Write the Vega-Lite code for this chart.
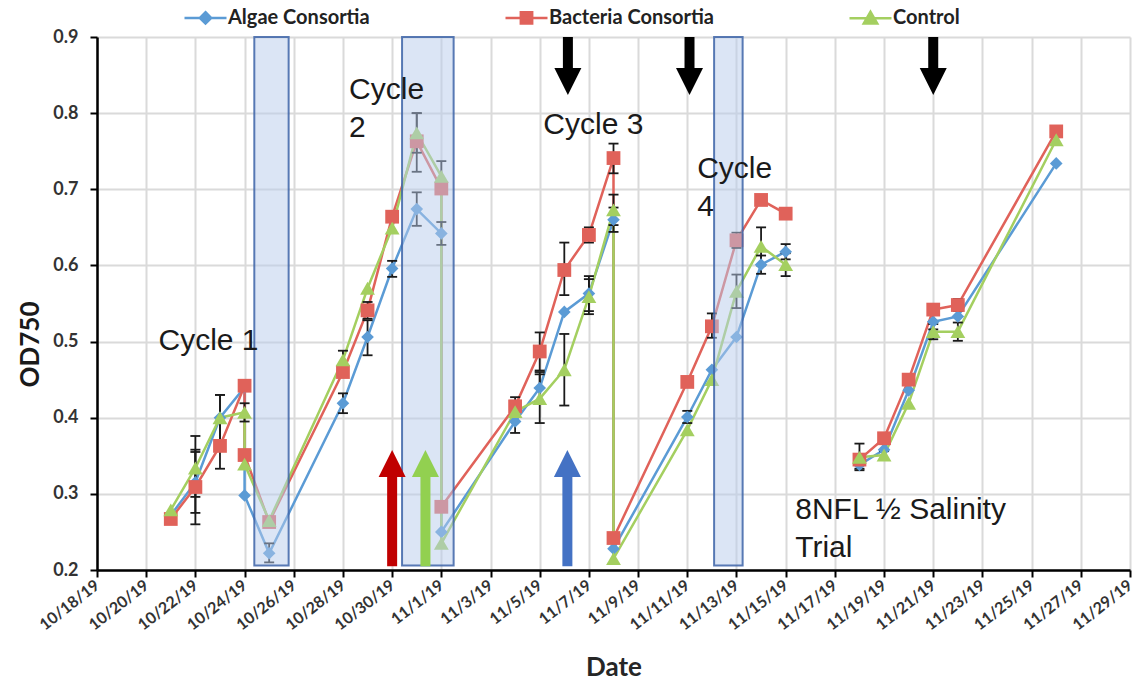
{
  "$schema": "https://vega.github.io/schema/vega-lite/v6.json",
  "width": 1033,
  "height": 533,
  "autosize": {"type": "none"},
  "padding": {"left": 97, "top": 37, "right": 12, "bottom": 112},
  "background": "white",
  "config": {"view": {"stroke": null}, "font": "Lato"},
  "datasets": {
    "od": [
      {"s": "Algae Consortia", "seg": 1, "i": 1, "t": "2019-10-21", "v": 0.272},
      {"s": "Algae Consortia", "seg": 1, "i": 2, "t": "2019-10-22", "v": 0.315, "lo": 0.275, "hi": 0.355},
      {"s": "Algae Consortia", "seg": 1, "i": 3, "t": "2019-10-23", "v": 0.400, "lo": 0.370, "hi": 0.430},
      {"s": "Algae Consortia", "seg": 1, "i": 4, "t": "2019-10-24", "v": 0.440},
      {"s": "Algae Consortia", "seg": 1, "i": 5, "t": "2019-10-24", "v": 0.298},
      {"s": "Algae Consortia", "seg": 1, "i": 6, "t": "2019-10-25", "v": 0.222, "lo": 0.210, "hi": 0.235},
      {"s": "Algae Consortia", "seg": 1, "i": 7, "t": "2019-10-28", "v": 0.419, "lo": 0.406, "hi": 0.432},
      {"s": "Algae Consortia", "seg": 1, "i": 8, "t": "2019-10-29", "v": 0.506, "lo": 0.482, "hi": 0.528},
      {"s": "Algae Consortia", "seg": 1, "i": 9, "t": "2019-10-30", "v": 0.596, "lo": 0.585, "hi": 0.606},
      {"s": "Algae Consortia", "seg": 1, "i": 10, "t": "2019-10-31", "v": 0.674, "lo": 0.652, "hi": 0.696},
      {"s": "Algae Consortia", "seg": 1, "i": 11, "t": "2019-11-01", "v": 0.642, "lo": 0.627, "hi": 0.657},
      {"s": "Algae Consortia", "seg": 1, "i": 12, "t": "2019-11-01", "v": 0.250},
      {"s": "Algae Consortia", "seg": 1, "i": 13, "t": "2019-11-04", "v": 0.395, "lo": 0.380, "hi": 0.410},
      {"s": "Algae Consortia", "seg": 1, "i": 14, "t": "2019-11-05", "v": 0.439, "lo": 0.420, "hi": 0.460},
      {"s": "Algae Consortia", "seg": 1, "i": 15, "t": "2019-11-06", "v": 0.539},
      {"s": "Algae Consortia", "seg": 1, "i": 16, "t": "2019-11-07", "v": 0.563, "lo": 0.540, "hi": 0.586},
      {"s": "Algae Consortia", "seg": 1, "i": 17, "t": "2019-11-08", "v": 0.660, "lo": 0.644, "hi": 0.676},
      {"s": "Algae Consortia", "seg": 1, "i": 18, "t": "2019-11-08", "v": 0.228},
      {"s": "Algae Consortia", "seg": 1, "i": 19, "t": "2019-11-11", "v": 0.401, "lo": 0.393, "hi": 0.409},
      {"s": "Algae Consortia", "seg": 1, "i": 20, "t": "2019-11-12", "v": 0.463},
      {"s": "Algae Consortia", "seg": 1, "i": 21, "t": "2019-11-13", "v": 0.506},
      {"s": "Algae Consortia", "seg": 1, "i": 22, "t": "2019-11-14", "v": 0.601, "lo": 0.589, "hi": 0.613},
      {"s": "Algae Consortia", "seg": 1, "i": 23, "t": "2019-11-15", "v": 0.618, "lo": 0.608, "hi": 0.628},
      {"s": "Algae Consortia", "seg": 2, "i": 24, "t": "2019-11-18", "v": 0.338, "lo": 0.331, "hi": 0.345},
      {"s": "Algae Consortia", "seg": 2, "i": 25, "t": "2019-11-19", "v": 0.358},
      {"s": "Algae Consortia", "seg": 2, "i": 26, "t": "2019-11-20", "v": 0.436},
      {"s": "Algae Consortia", "seg": 2, "i": 27, "t": "2019-11-21", "v": 0.526, "lo": 0.516, "hi": 0.536},
      {"s": "Algae Consortia", "seg": 2, "i": 28, "t": "2019-11-22", "v": 0.533},
      {"s": "Algae Consortia", "seg": 2, "i": 29, "t": "2019-11-26", "v": 0.734},

      {"s": "Bacteria Consortia", "seg": 1, "i": 1, "t": "2019-10-21", "v": 0.267},
      {"s": "Bacteria Consortia", "seg": 1, "i": 2, "t": "2019-10-22", "v": 0.309, "lo": 0.260, "hi": 0.358},
      {"s": "Bacteria Consortia", "seg": 1, "i": 3, "t": "2019-10-23", "v": 0.363, "lo": 0.333, "hi": 0.393},
      {"s": "Bacteria Consortia", "seg": 1, "i": 4, "t": "2019-10-24", "v": 0.442},
      {"s": "Bacteria Consortia", "seg": 1, "i": 5, "t": "2019-10-24", "v": 0.351},
      {"s": "Bacteria Consortia", "seg": 1, "i": 6, "t": "2019-10-25", "v": 0.263},
      {"s": "Bacteria Consortia", "seg": 1, "i": 7, "t": "2019-10-28", "v": 0.460},
      {"s": "Bacteria Consortia", "seg": 1, "i": 8, "t": "2019-10-29", "v": 0.541, "lo": 0.530, "hi": 0.552},
      {"s": "Bacteria Consortia", "seg": 1, "i": 9, "t": "2019-10-30", "v": 0.664},
      {"s": "Bacteria Consortia", "seg": 1, "i": 10, "t": "2019-10-31", "v": 0.763, "lo": 0.723, "hi": 0.800},
      {"s": "Bacteria Consortia", "seg": 1, "i": 11, "t": "2019-11-01", "v": 0.701},
      {"s": "Bacteria Consortia", "seg": 1, "i": 12, "t": "2019-11-01", "v": 0.283},
      {"s": "Bacteria Consortia", "seg": 1, "i": 13, "t": "2019-11-04", "v": 0.415, "lo": 0.403, "hi": 0.427},
      {"s": "Bacteria Consortia", "seg": 1, "i": 14, "t": "2019-11-05", "v": 0.487, "lo": 0.462, "hi": 0.512},
      {"s": "Bacteria Consortia", "seg": 1, "i": 15, "t": "2019-11-06", "v": 0.594, "lo": 0.561, "hi": 0.630},
      {"s": "Bacteria Consortia", "seg": 1, "i": 16, "t": "2019-11-07", "v": 0.640, "lo": 0.630, "hi": 0.650},
      {"s": "Bacteria Consortia", "seg": 1, "i": 17, "t": "2019-11-08", "v": 0.741, "lo": 0.721, "hi": 0.760},
      {"s": "Bacteria Consortia", "seg": 1, "i": 18, "t": "2019-11-08", "v": 0.242},
      {"s": "Bacteria Consortia", "seg": 1, "i": 19, "t": "2019-11-11", "v": 0.447},
      {"s": "Bacteria Consortia", "seg": 1, "i": 20, "t": "2019-11-12", "v": 0.520, "lo": 0.505, "hi": 0.537},
      {"s": "Bacteria Consortia", "seg": 1, "i": 21, "t": "2019-11-13", "v": 0.633, "lo": 0.623, "hi": 0.643},
      {"s": "Bacteria Consortia", "seg": 1, "i": 22, "t": "2019-11-14", "v": 0.686},
      {"s": "Bacteria Consortia", "seg": 1, "i": 23, "t": "2019-11-15", "v": 0.668},
      {"s": "Bacteria Consortia", "seg": 2, "i": 24, "t": "2019-11-18", "v": 0.345},
      {"s": "Bacteria Consortia", "seg": 2, "i": 25, "t": "2019-11-19", "v": 0.373},
      {"s": "Bacteria Consortia", "seg": 2, "i": 26, "t": "2019-11-20", "v": 0.450},
      {"s": "Bacteria Consortia", "seg": 2, "i": 27, "t": "2019-11-21", "v": 0.542},
      {"s": "Bacteria Consortia", "seg": 2, "i": 28, "t": "2019-11-22", "v": 0.548, "lo": 0.540, "hi": 0.556},
      {"s": "Bacteria Consortia", "seg": 2, "i": 29, "t": "2019-11-26", "v": 0.776},

      {"s": "Control", "seg": 1, "i": 1, "t": "2019-10-21", "v": 0.279},
      {"s": "Control", "seg": 1, "i": 2, "t": "2019-10-22", "v": 0.334, "lo": 0.296, "hi": 0.376},
      {"s": "Control", "seg": 1, "i": 3, "t": "2019-10-23", "v": 0.400, "lo": 0.370, "hi": 0.430},
      {"s": "Control", "seg": 1, "i": 4, "t": "2019-10-24", "v": 0.407, "lo": 0.395, "hi": 0.419},
      {"s": "Control", "seg": 1, "i": 5, "t": "2019-10-24", "v": 0.339},
      {"s": "Control", "seg": 1, "i": 6, "t": "2019-10-25", "v": 0.265},
      {"s": "Control", "seg": 1, "i": 7, "t": "2019-10-28", "v": 0.476, "lo": 0.464, "hi": 0.488},
      {"s": "Control", "seg": 1, "i": 8, "t": "2019-10-29", "v": 0.570},
      {"s": "Control", "seg": 1, "i": 9, "t": "2019-10-30", "v": 0.649},
      {"s": "Control", "seg": 1, "i": 10, "t": "2019-10-31", "v": 0.774, "lo": 0.748, "hi": 0.800},
      {"s": "Control", "seg": 1, "i": 11, "t": "2019-11-01", "v": 0.717, "lo": 0.697, "hi": 0.737},
      {"s": "Control", "seg": 1, "i": 12, "t": "2019-11-01", "v": 0.235},
      {"s": "Control", "seg": 1, "i": 13, "t": "2019-11-04", "v": 0.408},
      {"s": "Control", "seg": 1, "i": 14, "t": "2019-11-05", "v": 0.425, "lo": 0.393, "hi": 0.457},
      {"s": "Control", "seg": 1, "i": 15, "t": "2019-11-06", "v": 0.463, "lo": 0.416, "hi": 0.510},
      {"s": "Control", "seg": 1, "i": 16, "t": "2019-11-07", "v": 0.559, "lo": 0.536, "hi": 0.582},
      {"s": "Control", "seg": 1, "i": 17, "t": "2019-11-08", "v": 0.673, "lo": 0.653, "hi": 0.693},
      {"s": "Control", "seg": 1, "i": 18, "t": "2019-11-08", "v": 0.215},
      {"s": "Control", "seg": 1, "i": 19, "t": "2019-11-11", "v": 0.384},
      {"s": "Control", "seg": 1, "i": 20, "t": "2019-11-12", "v": 0.450},
      {"s": "Control", "seg": 1, "i": 21, "t": "2019-11-13", "v": 0.566, "lo": 0.544, "hi": 0.588},
      {"s": "Control", "seg": 1, "i": 22, "t": "2019-11-14", "v": 0.625, "lo": 0.600, "hi": 0.650},
      {"s": "Control", "seg": 1, "i": 23, "t": "2019-11-15", "v": 0.601, "lo": 0.586, "hi": 0.616},
      {"s": "Control", "seg": 2, "i": 24, "t": "2019-11-18", "v": 0.348, "lo": 0.333, "hi": 0.366},
      {"s": "Control", "seg": 2, "i": 25, "t": "2019-11-19", "v": 0.351, "lo": 0.346, "hi": 0.356},
      {"s": "Control", "seg": 2, "i": 26, "t": "2019-11-20", "v": 0.419},
      {"s": "Control", "seg": 2, "i": 27, "t": "2019-11-21", "v": 0.513, "lo": 0.503, "hi": 0.523},
      {"s": "Control", "seg": 2, "i": 28, "t": "2019-11-22", "v": 0.513, "lo": 0.501, "hi": 0.525},
      {"s": "Control", "seg": 2, "i": 29, "t": "2019-11-26", "v": 0.765}
    ],
    "shade": [
      {"t0": "2019-10-24T09:30:00Z", "t1": "2019-10-25T19:00:00Z"},
      {"t0": "2019-10-30T09:40:00Z", "t1": "2019-11-01T12:00:00Z"},
      {"t0": "2019-11-12T02:10:00Z", "t1": "2019-11-13T06:00:00Z"}
    ],
    "drops": [
      {"t": "2019-11-06T03:30:00Z"},
      {"t": "2019-11-11T02:10:00Z"},
      {"t": "2019-11-21T00:00:00Z"}
    ],
    "adds": [
      {"t": "2019-10-30T00:00:00Z", "s": "Bacteria Consortia"},
      {"t": "2019-10-31T08:30:00Z", "s": "Control"},
      {"t": "2019-11-06T03:00:00Z", "s": "Algae Consortia"}
    ],
    "notes": [
      {"t": "2019-10-20T12:00:00Z", "v": 0.489, "txt": "Cycle 1"},
      {"t": "2019-10-28T06:00:00Z", "v": 0.8186, "txt": "Cycle\n2"},
      {"t": "2019-11-05T03:30:00Z", "v": 0.7726, "txt": "Cycle 3"},
      {"t": "2019-11-11T09:40:00Z", "v": 0.7148, "txt": "Cycle\n4"},
      {"t": "2019-11-15T09:20:00Z", "v": 0.267, "txt": "8NFL ½ Salinity\nTrial"}
    ]
  },
  "layer": [
    {
      "data": {"name": "od"},
      "mark": {"type": "line", "strokeWidth": 2.5},
      "encoding": {
        "x": {
          "field": "t", "type": "temporal", "title": "Date",
          "scale": {"type": "utc", "domain": [
            {"year": 2019, "month": 10, "date": 18, "utc": true},
            {"year": 2019, "month": 11, "date": 29, "utc": true}
          ]},
          "axis": {
            "values": [
              {"year": 2019, "month": 10, "date": 18, "utc": true},
              {"year": 2019, "month": 10, "date": 20, "utc": true},
              {"year": 2019, "month": 10, "date": 22, "utc": true},
              {"year": 2019, "month": 10, "date": 24, "utc": true},
              {"year": 2019, "month": 10, "date": 26, "utc": true},
              {"year": 2019, "month": 10, "date": 28, "utc": true},
              {"year": 2019, "month": 10, "date": 30, "utc": true},
              {"year": 2019, "month": 11, "date": 1, "utc": true},
              {"year": 2019, "month": 11, "date": 3, "utc": true},
              {"year": 2019, "month": 11, "date": 5, "utc": true},
              {"year": 2019, "month": 11, "date": 7, "utc": true},
              {"year": 2019, "month": 11, "date": 9, "utc": true},
              {"year": 2019, "month": 11, "date": 11, "utc": true},
              {"year": 2019, "month": 11, "date": 13, "utc": true},
              {"year": 2019, "month": 11, "date": 15, "utc": true},
              {"year": 2019, "month": 11, "date": 17, "utc": true},
              {"year": 2019, "month": 11, "date": 19, "utc": true},
              {"year": 2019, "month": 11, "date": 21, "utc": true},
              {"year": 2019, "month": 11, "date": 23, "utc": true},
              {"year": 2019, "month": 11, "date": 25, "utc": true},
              {"year": 2019, "month": 11, "date": 27, "utc": true},
              {"year": 2019, "month": 11, "date": 29, "utc": true}
            ],
            "labelExpr": "utcFormat(datum.value, '%-m/%-d/%y')",
            "labelAngle": -38,
            "labelAlign": "right",
            "labelBaseline": "middle",
            "labelFont": "Lato",
            "labelFontWeight": "bold",
            "labelFontSize": 16,
            "labelColor": "#333333",
            "labelPadding": 6,
            "labelOverlap": false,
            "labelBound": false,
            "labelFlush": false,
            "tickSize": 7,
            "tickWidth": 2,
            "tickColor": "black",
            "domainColor": "black",
            "domainWidth": 2.5,
            "grid": true,
            "gridColor": "#dadada",
            "gridWidth": 2,
            "titleFont": "Lato",
            "titleFontWeight": "bold",
            "titleFontSize": 26,
            "titleColor": "#262626",
            "titleBaseline": "alphabetic",
            "titleY": 105
          }
        },
        "y": {
          "field": "v", "type": "quantitative", "title": "OD750",
          "scale": {"domain": [0.2, 0.9], "nice": false, "zero": false},
          "axis": {
            "values": [0.2, 0.3, 0.4, 0.5, 0.6, 0.7, 0.8, 0.9],
            "format": ".1f",
            "labelFont": "Lato",
            "labelFontWeight": "bold",
            "labelFontSize": 18,
            "labelColor": "#333333",
            "labelPadding": 12,
            "tickSize": 7,
            "tickWidth": 2,
            "tickColor": "black",
            "domainColor": "black",
            "domainWidth": 2.5,
            "grid": true,
            "gridColor": "#dadada",
            "gridWidth": 2,
            "titleFont": "Lato",
            "titleFontWeight": "bold",
            "titleFontSize": 26,
            "titleColor": "#1a1a1a",
            "titleAngle": -90,
            "titleAlign": "center",
            "titleBaseline": "middle",
            "titleX": -67,
            "titleY": 307
          }
        },
        "color": {
          "field": "s", "type": "nominal",
          "scale": {
            "domain": ["Algae Consortia", "Bacteria Consortia", "Control"],
            "range": ["#5b9bd5", "#e0625a", "#a4cf60"]
          },
          "legend": {
            "orient": "none",
            "legendX": 86,
            "legendY": -42,
            "direction": "horizontal",
            "title": null,
            "padding": 0,
            "symbolSize": 1764,
            "symbolStrokeWidth": 2.5,
            "labelFont": "Lato",
            "labelFontWeight": "bold",
            "labelFontSize": 20,
            "labelColor": "#222222",
            "labelLimit": 400,
            "labelOffset": 0,
            "columnPadding": 130,
            "encoding": {
              "symbols": {
                "shape": {"value": {"signal": "datum.value === 'Algae Consortia' ? 'M-1,0L1,0M0,-0.27L0.27,0L0,0.27L-0.27,0Z' : datum.value === 'Bacteria Consortia' ? 'M-1,0L1,0M-0.27,-0.27L0.27,-0.27L0.27,0.27L-0.27,0.27Z' : 'M-1,0L1,0M0,-0.3L0.32,0.25L-0.32,0.25Z'"}},
                "fill": {"value": {"signal": "scale('color', datum.value)"}},
                "stroke": {"value": {"signal": "scale('color', datum.value)"}},
                "size": {"value": 1764},
                "strokeWidth": {"value": 2.5},
                "opacity": {"value": 1}
              }
            }
          }
        },
        "detail": {"field": "seg", "type": "nominal"},
        "order": {"field": "i", "type": "quantitative"}
      }
    },
    {
      "data": {"name": "od"},
      "transform": [{"filter": "isValid(datum.lo)"}],
      "mark": {"type": "rule", "color": "#1a1a1a", "strokeWidth": 1.8},
      "encoding": {
        "x": {"field": "t", "type": "temporal", "title": "Date"},
        "y": {"field": "lo", "type": "quantitative", "title": "OD750"},
        "y2": {"field": "hi"}
      }
    },
    {
      "data": {"name": "od"},
      "transform": [{"filter": "isValid(datum.lo)"}],
      "mark": {"type": "tick", "orient": "horizontal", "size": 10, "thickness": 1.8, "color": "#1a1a1a", "opacity": 1},
      "encoding": {
        "x": {"field": "t", "type": "temporal", "title": "Date"},
        "y": {"field": "lo", "type": "quantitative", "title": "OD750"}
      }
    },
    {
      "data": {"name": "od"},
      "transform": [{"filter": "isValid(datum.hi)"}],
      "mark": {"type": "tick", "orient": "horizontal", "size": 10, "thickness": 1.8, "color": "#1a1a1a", "opacity": 1},
      "encoding": {
        "x": {"field": "t", "type": "temporal", "title": "Date"},
        "y": {"field": "hi", "type": "quantitative", "title": "OD750"}
      }
    },
    {
      "data": {"name": "od"},
      "transform": [{"filter": "datum.s === 'Algae Consortia'"}],
      "mark": {"type": "point", "filled": true, "opacity": 1, "shape": "diamond", "size": 160},
      "encoding": {
        "x": {"field": "t", "type": "temporal", "title": "Date"},
        "y": {"field": "v", "type": "quantitative", "title": "OD750"},
        "color": {"field": "s", "type": "nominal"}
      }
    },
    {
      "data": {"name": "od"},
      "transform": [{"filter": "datum.s === 'Bacteria Consortia'"}],
      "mark": {"type": "point", "filled": true, "opacity": 1, "shape": "square", "size": 190},
      "encoding": {
        "x": {"field": "t", "type": "temporal", "title": "Date"},
        "y": {"field": "v", "type": "quantitative", "title": "OD750"},
        "color": {"field": "s", "type": "nominal"}
      }
    },
    {
      "data": {"name": "od"},
      "transform": [{"filter": "datum.s === 'Control'"}],
      "mark": {"type": "point", "filled": true, "opacity": 1, "shape": "triangle-up", "size": 220},
      "encoding": {
        "x": {"field": "t", "type": "temporal", "title": "Date"},
        "y": {"field": "v", "type": "quantitative", "title": "OD750"},
        "color": {"field": "s", "type": "nominal"}
      }
    },
    {
      "data": {"name": "shade"},
      "mark": {"type": "rect", "fill": "#b7cbec", "fillOpacity": 0.5, "stroke": "#3d64a8", "strokeWidth": 2, "strokeOpacity": 0.85},
      "encoding": {
        "x": {"field": "t0", "type": "temporal"},
        "x2": {"field": "t1"},
        "y": {"datum": 0.206, "type": "quantitative"},
        "y2": {"datum": 0.9}
      }
    },
    {
      "data": {"name": "drops"},
      "mark": {"type": "rule", "color": "black", "strokeWidth": 10},
      "encoding": {
        "x": {"field": "t", "type": "temporal"},
        "y": {"datum": 0.9, "type": "quantitative"},
        "y2": {"datum": 0.845}
      }
    },
    {
      "data": {"name": "drops"},
      "mark": {"type": "point", "filled": true, "color": "black", "opacity": 1, "shape": "M-1,-1L1,-1L0,1Z", "size": 729},
      "encoding": {
        "x": {"field": "t", "type": "temporal"},
        "y": {"datum": 0.8416, "type": "quantitative"}
      }
    },
    {
      "data": {"name": "adds"},
      "mark": {"type": "rule", "strokeWidth": 10},
      "encoding": {
        "x": {"field": "t", "type": "temporal"},
        "y": {"datum": 0.205, "type": "quantitative"},
        "y2": {"datum": 0.335},
        "stroke": {
          "field": "s", "type": "nominal",
          "scale": {"domain": ["Algae Consortia", "Bacteria Consortia", "Control"], "range": ["#4472c4", "#c00000", "#92d050"]},
          "legend": null
        }
      }
    },
    {
      "data": {"name": "adds"},
      "mark": {"type": "point", "filled": true, "opacity": 1, "shape": "M-1,1L1,1L0,-1Z", "size": 729},
      "encoding": {
        "x": {"field": "t", "type": "temporal"},
        "y": {"datum": 0.34, "type": "quantitative"},
        "fill": {
          "field": "s", "type": "nominal",
          "scale": {"domain": ["Algae Consortia", "Bacteria Consortia", "Control"], "range": ["#4472c4", "#c00000", "#92d050"]},
          "legend": null
        }
      }
    },
    {
      "data": {"name": "notes"},
      "mark": {"type": "text", "align": "left", "baseline": "alphabetic", "font": "Liberation Sans", "fontSize": 30, "lineHeight": 38, "lineBreak": "\n", "color": "#1a1a1a"},
      "encoding": {
        "x": {"field": "t", "type": "temporal"},
        "y": {"field": "v", "type": "quantitative"},
        "text": {"field": "txt"}
      }
    }
  ]
}
